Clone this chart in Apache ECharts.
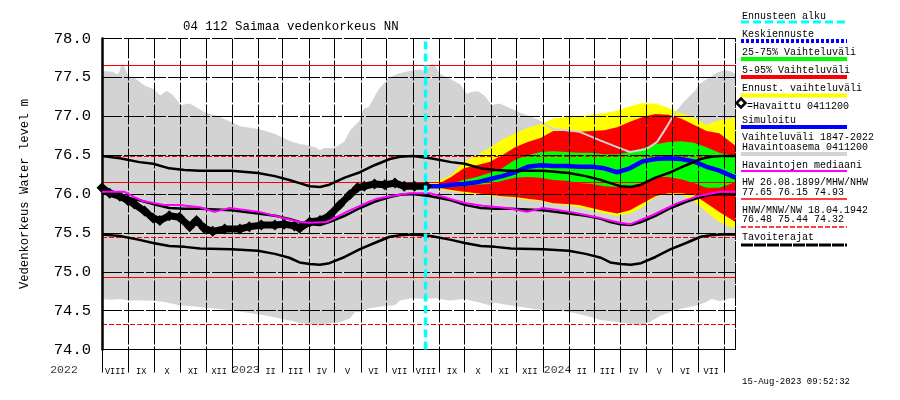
<!DOCTYPE html>
<html lang="fi">
<head>
<meta charset="utf-8">
<title>Saimaa vedenkorkeus</title>
<script src="https://cdn.jsdelivr.net/npm/echarts@6/dist/echarts.min.js"></script>
<style>
	html, body { margin: 0; background: #fff; }
	#main { width: 900px; height: 400px; }
</style>
</head>
<body>
<div id="main"></div>
<script type="text/javascript">
// all x values are days counted from 1 Aug 2022
var monthStarts = [0,31,61,92,122,153,184,212,243,273,304,334,365,396,426,457,487,518,549,578,609,639,670,700,731];
var monthNames = ['VIII','IX','X','XI','XII','','II','III','IV','V','VI','VII','VIII','IX','X','XI','XII','','II','III','IV','V','VI','VII'];
var yearDays = [0,169,535];
var yearNames = ['2022','2023','2024'];
var lastDay = 744;
var forecastStart = 380;

// ylin / alin havaittu 1847-2022
var rangeTopDays = [0,12,17,21,24,30,38,50,60,68,76,82,92,103,120,138,162,185,203,220,232,238,250,256,261,273,285,293,303,308,314,326,338,350,361,373,379,388,397,408,420,428,434,441,449,457,467,479,491,502,518,529,561,585,608,620,640,652,663,670,682,699,702,714,725,731,737,744];
var rangeTop = [77.57,77.56,77.53,77.55,77.66,77.51,77.48,77.38,77.34,77.25,77.31,77.27,77.13,77.15,77.04,76.98,76.86,76.82,76.76,76.67,76.63,76.62,76.59,76.55,76.58,76.58,76.66,76.82,76.93,77.08,77.11,77.34,77.49,77.54,77.57,77.59,77.57,77.66,77.53,77.47,77.40,77.27,77.30,77.31,77.25,77.13,77.15,77.09,77.03,76.99,76.91,76.84,76.80,76.69,76.59,76.54,76.58,76.67,76.86,76.99,77.15,77.34,77.40,77.49,77.56,77.58,77.57,77.53];
var rangeBottomDays = [0,9,21,32,56,73,91,103,120,138,156,173,191,209,226,232,244,256,265,279,291,297,305,314,332,344,350,364,379,391,408,426,444,455,461,479,502,520,538,555,573,585,608,632,643,655,667,679,696,708,716,726,737,744];
var rangeBottom = [74.65,74.64,74.65,74.63,74.63,74.61,74.57,74.56,74.54,74.52,74.50,74.47,74.44,74.40,74.36,74.34,74.32,74.31,74.33,74.35,74.40,74.48,74.49,74.53,74.56,74.57,74.63,74.66,74.65,74.66,74.63,74.65,74.60,74.57,74.60,74.57,74.53,74.50,74.50,74.47,74.42,74.38,74.35,74.31,74.35,74.43,74.48,74.52,74.56,74.60,74.65,74.62,74.66,74.66];

// ennuste
var forecastDays = [380,395,410,425,440,455,470,485,500,515,530,545,560,575,590,605,620,635,650,665,680,695,710,725,744];
var forecastMax = [76.10,76.17,76.24,76.41,76.50,76.59,76.70,76.78,76.85,76.90,76.97,76.99,77.00,77.02,77.04,77.07,77.13,77.17,77.16,77.11,77.04,76.98,76.89,76.95,76.98];
var forecastP95 = [76.10,76.13,76.22,76.33,76.37,76.41,76.50,76.60,76.67,76.72,76.81,76.81,76.80,76.81,76.82,76.86,76.93,76.99,77.03,77.02,76.97,76.89,76.81,76.78,76.62];
var forecastP75 = [76.10,76.12,76.13,76.18,76.22,76.27,76.33,76.44,76.50,76.54,76.55,76.54,76.53,76.53,76.51,76.51,76.54,76.59,76.64,76.67,76.68,76.66,76.60,76.53,76.49];
var forecastP25 = [76.10,76.09,76.09,76.10,76.12,76.13,76.17,76.21,76.22,76.21,76.18,76.17,76.14,76.13,76.10,76.09,76.09,76.14,76.22,76.22,76.19,76.14,76.08,76.08,76.15];
var forecastP05 = [76.10,76.08,76.05,76.03,76.01,75.99,75.97,75.96,75.94,75.92,75.88,75.87,75.86,75.82,75.78,75.75,75.79,75.88,75.97,76.01,76.01,75.99,75.88,75.77,75.64];
var forecastMin = [76.10,76.06,76.04,76.01,75.99,75.97,75.96,75.95,75.92,75.91,75.87,75.86,75.83,75.79,75.75,75.72,75.75,75.83,75.96,76.00,75.99,75.91,75.77,75.64,75.55];
var simulated = [76.10,76.10,76.12,76.13,76.15,76.19,76.23,76.28,76.35,76.37,76.36,76.36,76.35,76.35,76.33,76.28,76.33,76.42,76.45,76.46,76.45,76.42,76.35,76.30,76.21];

// havaittu 0411200
var observedDays = [0,9,21,30,38,50,60,68,79,91,103,111,120,130,144,162,173,187,203,214,226,232,244,256,267,279,291,300,308,320,332,344,355,367,381];
var observed = [76.08,76.01,75.97,75.92,75.87,75.78,75.69,75.66,75.72,75.70,75.58,75.66,75.56,75.52,75.55,75.55,75.58,75.60,75.60,75.61,75.59,75.56,75.64,75.66,75.72,75.86,75.99,76.08,76.10,76.13,76.12,76.14,76.10,76.10,76.10];

// havaintojen mediaani
var medianDays = [0,26,38,48,73,91,115,132,150,185,232,244,264,291,314,323,338,361,385,402,414,428,447,476,499,518,550,585,608,620,647,675,699,726,744];
var median = [76.03,76.03,75.96,75.91,75.86,75.86,75.83,75.77,75.82,75.77,75.64,75.63,75.64,75.79,75.90,75.94,75.97,76.01,76.01,75.96,75.92,75.88,75.85,75.82,75.77,75.82,75.77,75.69,75.63,75.61,75.73,75.88,75.97,76.03,76.03];

// tavoiterajat
var targetDays = [0,21,44,60,79,97,115,152,183,203,220,232,244,256,267,285,303,320,338,350,365,386,410,426,445,462,480,518,548,568,586,597,609,621,633,650,668,686,703,715,727,744];
var targetUpper = [76.49,76.46,76.41,76.39,76.33,76.31,76.30,76.30,76.27,76.23,76.18,76.14,76.10,76.09,76.12,76.21,76.28,76.37,76.45,76.48,76.49,76.46,76.41,76.39,76.33,76.31,76.30,76.30,76.27,76.23,76.18,76.14,76.10,76.09,76.12,76.21,76.28,76.37,76.45,76.48,76.49,76.49];
var targetMiddle = [76.01,75.97,75.92,75.87,75.82,75.81,75.81,75.79,75.75,75.72,75.68,75.64,75.61,75.60,75.64,75.72,75.82,75.90,75.96,75.99,76.00,75.97,75.92,75.86,75.82,75.81,75.81,75.79,75.75,75.72,75.68,75.64,75.61,75.60,75.64,75.72,75.82,75.90,75.96,75.99,76.00,75.99];
var targetLower = [75.48,75.46,75.41,75.37,75.33,75.32,75.30,75.29,75.27,75.23,75.18,75.12,75.10,75.09,75.11,75.19,75.29,75.37,75.45,75.47,75.48,75.46,75.41,75.37,75.33,75.32,75.30,75.29,75.27,75.23,75.18,75.12,75.10,75.09,75.11,75.19,75.29,75.37,75.45,75.47,75.48,75.48];

// HW/MHW/NHW ja HNW/MNW/NW
var highLevels = [77.65,76.15,74.93];
var lowLevels = [76.48,75.44,74.32];

var FONT = '"Liberation Mono", monospace';

function zip(xs, ys) {
	return xs.map(function(x, i) { return [x, ys[i]]; });
}
// one polygon between two forecast arrays, stacking does not work on two value axes
function band(name, upper, lower, color) {
	return {
		name: name, type: 'custom', z: 3, silent: true,
		encode: { x: 0, y: [1, 2] },
		data: forecastDays.map(function(d, i) { return [d, upper[i], lower[i]]; }),
		renderItem: function(params, api) {
			if (params.dataIndex !== 0) { return null; }
			var top = forecastDays.map(function(d, i) { return api.coord([d, upper[i]]); });
			var bottom = forecastDays.map(function(d, i) { return api.coord([d, lower[i]]); }).reverse();
			return { type: 'polygon', shape: { points: top.concat(bottom) }, style: { fill: color } };
		}
	};
}
function curve(name, xs, ys, color, width, z) {
	return {
		name: name, type: 'line', symbol: 'none', z: z,
		lineStyle: { color: color, width: width },
		data: zip(xs, ys)
	};
}
function filled(name, xs, ys, color) {
	return {
		name: name, type: 'line', symbol: 'none', z: 2,
		lineStyle: { width: 0 },
		areaStyle: { color: color, opacity: 1, origin: 'start' },
		data: zip(xs, ys)
	};
}
function levels(name, values, type) {
	return {
		name: name, type: 'line', data: [], z: 7,
		markLine: {
			silent: true, symbol: 'none', animation: false, label: { show: false },
			lineStyle: { color: '#ff0000', width: 1, type: type },
			data: values.map(function(v) { return { yAxis: v }; })
		}
	};
}

var midMonths = monthNames.map(function(n, i) { return (monthStarts[i] + monthStarts[i + 1]) / 2; });

var series = [
	filled('Vaihteluvali ylä', rangeTopDays, rangeTop, '#d3d3d3'),
	filled('Vaihteluvali ala', rangeBottomDays, rangeBottom, '#ffffff'),
	band('Ennust. vaihteluväli', forecastMax, forecastMin, '#ffff00'),
	band('5-95%', forecastP95, forecastP05, '#ff0000'),
	band('25-75%', forecastP75, forecastP25, '#00ff00'),
	curve('Vaihteluvali viiva', rangeTopDays, rangeTop, '#d3d3d3', 2, 4),
	levels('HW/MHW/NHW', highLevels, 'solid'),
	levels('HNW/MNW/NW', lowLevels, [5, 2]),
	curve('Simuloitu', forecastDays, simulated, '#0000ff', 4.5, 8),
	curve('Tavoite ylä', targetDays, targetUpper, '#000000', 2.5, 9),
	curve('Tavoite keski', targetDays, targetMiddle, '#000000', 2.5, 9),
	curve('Tavoite ala', targetDays, targetLower, '#000000', 2.5, 9),
	{
		name: 'Havaittu', type: 'line', z: 11, symbol: 'diamond', symbolSize: 11,
		itemStyle: { color: '#000000' },
		lineStyle: { color: '#000000', width: 7 },
		data: zip(observedDays, observed)
	},
	curve('Mediaani', medianDays, median, '#ff00ff', 2, 12),
	{
		name: 'Ennusteen alku', type: 'line', symbol: 'none', z: 13,
		lineStyle: { color: '#00ffff', width: 3.5, type: [8, 4] },
		data: [[forecastStart, 74], [forecastStart, 78]]
	},
	{
		name: 'Vuodet', type: 'scatter', symbolSize: 0, z: 13, silent: true, clip: false,
		label: { show: true, position: 'inside', color: '#000', fontFamily: FONT, fontSize: 11.5, offset: [0, 20],
			formatter: function(p) { return p.data.text; } },
		data: yearDays.map(function(d, i) {
			var item = { value: [d, 74], text: yearNames[i] };
			if (d === 0) { item.label = { offset: [-38, 20] }; }
			return item;
		})
	}
];

var option = {
	animation: false,
	backgroundColor: '#ffffff',
	title: {
		text: '04 112 Saimaa vedenkorkeus NN', left: 183, top: 21, padding: 0,
		textStyle: { fontFamily: FONT, fontSize: 12.4, fontWeight: 'normal', color: '#000' }
	},
	grid: { left: 102, top: 38.5, width: 633.5, height: 311 },
	xAxis: {
		type: 'value', min: 0, max: lastDay, z: 5,
		axisLine: { onZero: false, lineStyle: { color: '#000', width: 1 } },
		axisTick: { customValues: monthStarts, length: 23, lineStyle: { color: '#000', width: 1 } },
		splitLine: { show: true, lineStyle: { color: '#000', width: 1, type: [20, 2] } },
		axisLabel: {
			customValues: midMonths.filter(function(m, i) { return monthNames[i] !== ''; }),
			margin: 18, fontFamily: FONT, fontSize: 8.5, color: '#000',
			formatter: function(v) { return monthNames[midMonths.indexOf(v)]; }
		}
	},
	yAxis: [
		{
			type: 'value', min: 74, max: 78, interval: 0.5, z: 5,
			name: 'Vedenkorkeus Water level m', nameLocation: 'middle', nameRotate: 90, nameGap: 71,
			nameTextStyle: { fontFamily: FONT, fontSize: 12.2, color: '#000' },
			axisLine: { show: true, lineStyle: { color: '#000', width: 2.5 } },
			axisTick: { show: false },
			splitLine: { show: true, lineStyle: { color: '#000', width: 1, type: [20, 2] } },
			axisLabel: { margin: 11, fontFamily: FONT, fontSize: 15.5, color: '#000',
				formatter: function(v) { return v.toFixed(1); } }
		},
		{
			type: 'value', min: 74, max: 78, position: 'right', z: 5,
			axisLine: { show: true, lineStyle: { color: '#000', width: 1, type: [20, 2] } },
			axisTick: { show: false }, axisLabel: { show: false }, splitLine: { show: false }
		}
	],
	series: series
};

// selite
var legendTexts = [
	['Ennusteen alku', 16.5], ['Keskiennuste', 34.5], ['25-75% Vaihteluväli', 52], ['5-95% Vaihteluväli', 70],
	['Ennust. vaihteluväli', 88.5], ['Simuloitu', 120], ['Vaihteluväli 1847-2022', 137], ['Havaintoasema 0411200', 147],
	['Havaintojen mediaani', 165], ['HW 26.08.1899/MHW/NHW', 182], ['77.65 76.15 74.93', 192],
	['HNW/MNW/NW 18.04.1942', 210], ['76.48 75.44 74.32', 219], ['Tavoiterajat', 237]
];
var legendLines = [
	[22, '#00ffff', 3, [8, 4]], [41, '#0000ff', 4, [3, 2]], [59, '#00ff00', 4, null], [77, '#ff0000', 4, null],
	[95.5, '#ffff00', 4, null], [127, '#0000ff', 4, null], [154, '#d3d3d3', 4, null], [171, '#ff00ff', 2, null],
	[199, '#ff0000', 1.5, null], [227, '#ff0000', 1.5, [5, 2]], [245, '#000000', 3, [12, 1]]
];
var graphics = legendTexts.map(function(t) {
	return { type: 'text', x: 742, y: t[1], z: 20,
		style: { text: t[0], fill: '#000', font: '10px ' + FONT, textVerticalAlign: 'middle' } };
});
legendLines.forEach(function(l) {
	graphics.push({ type: 'line', z: 20, shape: { x1: 741, y1: l[0], x2: 847, y2: l[0] },
		style: { stroke: l[1], lineWidth: l[2], lineDash: l[3] } });
});
graphics.push({ type: 'polygon', z: 21, shape: { points: [[741, 98.5], [745.5, 103], [741, 107.5], [736.5, 103]] },
	style: { fill: '#fff', stroke: '#000', lineWidth: 2.5 } });
graphics.push({ type: 'text', x: 747, y: 106, z: 20,
	style: { text: '=Havaittu 0411200', fill: '#000', font: '10px ' + FONT, textVerticalAlign: 'middle' } });
graphics.push({ type: 'text', x: 742, y: 382, z: 20,
	style: { text: '15-Aug-2023 09:52:32', fill: '#000', font: '9px ' + FONT, textVerticalAlign: 'middle' } });
option.graphic = graphics;

var myChart = echarts.init(document.getElementById('main'), null, { renderer: 'canvas' });
myChart.setOption(option);
</script>
</body>
</html>
